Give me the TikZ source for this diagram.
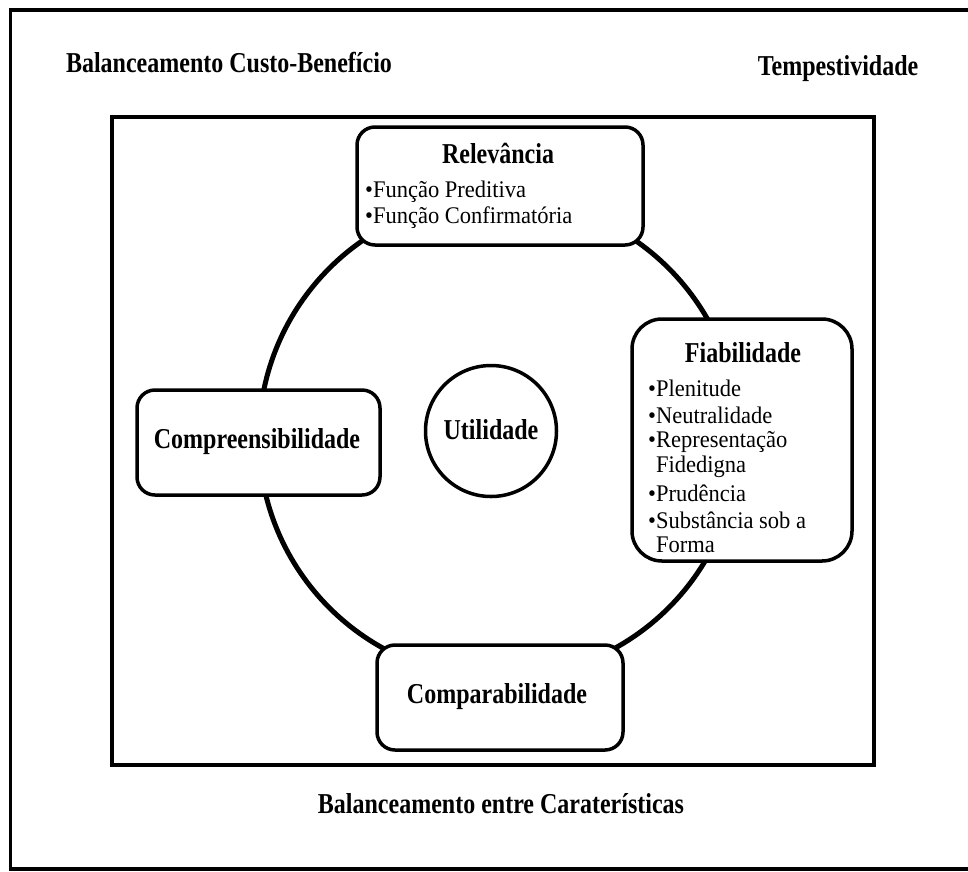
\documentclass[tikz,border=0pt]{standalone}
\usepackage{fontspec}
\setmainfont{Liberation Serif}
\newcommand{\tallttl}[1]{\scalebox{1}[1.2]{#1}}
\newcommand{\tallitem}[1]{\scalebox{1}[1.06]{#1}}
\begin{document}
\begin{tikzpicture}[x=1pt,y=-1pt,
  frame/.style={line width=3.5pt},
  box/.style={draw, line width=3.5pt, fill=white, rounded corners=18pt, inner sep=0pt},
  ttl/.style={font=\fontsize{24}{28}\selectfont\bfseries, inner sep=0pt},
  item/.style={font=\fontsize{22.5}{26}\selectfont, inner sep=0pt, anchor=west}]
\useasboundingbox (0,0) rectangle (968,871);
\clip (0,0) rectangle (968,871);
\fill[white] (0,0) rectangle (968,871);
% outer frame
\draw[frame] (10.5,10) rectangle (980,869);
% inner frame
\draw[line width=4pt] (112,117) rectangle (874,765);
% ring
\node[circle, draw, line width=5pt, minimum size=480pt, inner sep=0pt] (ring) at (499,438) {};
% boxes
\node[box, minimum width=286pt, minimum height=118pt] (relbox) at (500,186) {};
\node[box, rounded corners=30pt, minimum width=220pt, minimum height=242pt] (fiabox) at (742,440) {};
\node[box, minimum width=243pt, minimum height=105pt] (compbox) at (258.5,442.5) {};
\node[box, minimum width=246pt, minimum height=105pt] (combox) at (500,697.5) {};
\node[circle, draw, line width=3.5pt, minimum size=131pt, inner sep=0pt] (util) at (491,431) {};
% texts
\node[ttl] (t1) at (229,63) {\tallttl{Balanceamento Custo-Benefício}};
\node[ttl] (t2) at (838,69) {\tallttl{Tempestividade}};
\node[ttl] (t3) at (501,804) {\tallttl{Balanceamento entre Caraterísticas}};
\node[ttl] (rel) at (498,153) {\tallttl{Relevância}};
\node[item] (r1) at (365,192) {\tallitem{•Função Preditiva}};
\node[item] (r2) at (365,218) {\tallitem{•Função Confirmatória}};
\node[ttl] (fia) at (743,353) {\tallttl{Fiabilidade}};
\node[item] (f1) at (648,388) {\tallitem{•Plenitude}};
\node[item] (f2) at (648,415) {\tallitem{•Neutralidade}};
\node[item] (f3) at (648,442) {\tallitem{•Representação}};
\node[item] (f4) at (648,467) {\tallitem{\phantom{•}Fidedigna}};
\node[item] (f5) at (648,493) {\tallitem{•Prudência}};
\node[item] (f6) at (648,520) {\tallitem{•Substância sob a}};
\node[item] (f7) at (648,545) {\tallitem{\phantom{•}Forma}};
\node[ttl] (comp) at (257,442) {\tallttl{Compreensibilidade}};
\node[ttl] (com) at (497,697) {\tallttl{Comparabilidade}};
\node[ttl] (ut) at (491,430) {\tallttl{Utilidade}};
\end{tikzpicture}
\end{document}
